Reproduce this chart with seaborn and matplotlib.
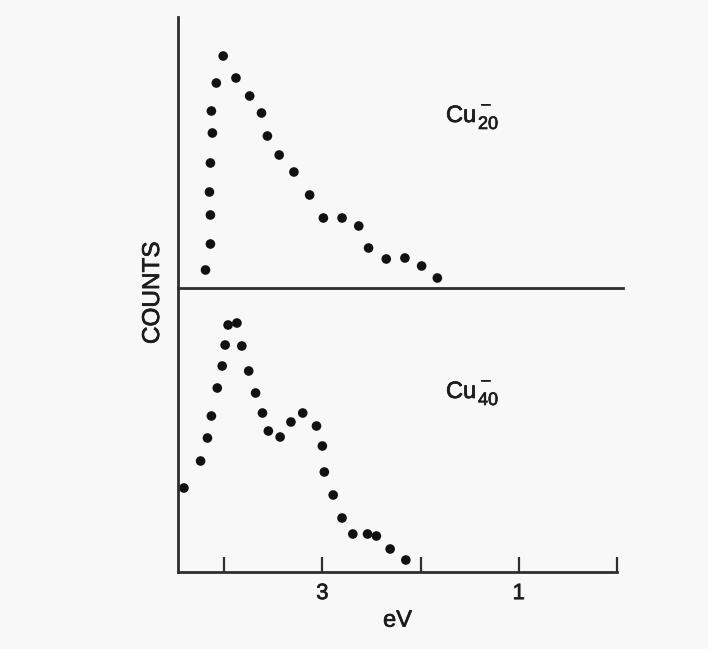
import matplotlib
matplotlib.use("Agg")
import matplotlib.pyplot as plt
import matplotlib.patheffects as pe
import seaborn as sns
import pandas as pd

# Photoelectron spectra of copper cluster anions (arbitrary count units)
cu20_ev = [4.19, 4.14, 4.14, 4.15, 4.14, 4.12, 4.13, 4.08, 4.01, 3.88, 3.74, 3.62,
           3.56, 3.44, 3.29, 3.13, 2.99, 2.80, 2.63, 2.53, 2.35, 2.16, 1.99, 1.83]
cu20_counts = [18, 44, 73, 96, 125, 155, 177, 205, 232, 210, 192, 175,
               152, 133, 116, 93, 70, 70, 62, 40, 29, 30, 22, 10]

cu40_ev = [4.41, 4.24, 4.17, 4.13, 4.07, 4.02, 3.99, 3.96, 3.87, 3.82, 3.75, 3.68,
           3.61, 3.55, 3.43, 3.32, 3.20, 3.06, 3.00, 2.98, 2.89, 2.80, 2.69, 2.54,
           2.45, 2.31, 2.15]
cu40_counts = [84, 111, 134, 156, 184, 206, 227, 247, 249, 226, 201, 179,
               159, 141, 135, 150, 159, 146, 126, 100, 77, 54, 38, 38,
               36, 23, 12]

x_ticks = [4, 3, 2, 1, 0]
x_tick_labels = ["", "3", "", "1", ""]

sns.set_style("white")
plt.rcParams["font.family"] = ["Liberation Sans", "DejaVu Sans"]

W, H = 708, 649
paper = "#f8f8f8"
ink = "#111111"
text_c = "#1c1c1c"
line_c = "#2e2e2e"
heavy = [pe.withStroke(linewidth=0.5, foreground=text_c)]

fig = plt.figure(figsize=(W / 100, H / 100), dpi=100, facecolor=paper)

# panel boxes in pixel coordinates
ax_top = fig.add_axes([178 / W, 1 - 288 / H, (623 - 178) / W, (288 - 17) / H])
ax_bot = fig.add_axes([178 / W, 1 - 572 / H, (617 - 178) / W, (572 - 288) / H])

df20 = pd.DataFrame({"eV": cu20_ev, "counts": cu20_counts})
df40 = pd.DataFrame({"eV": cu40_ev, "counts": cu40_counts})

left_ev = 4.47

for ax, df, height in ((ax_top, df20, 271), (ax_bot, df40, 284)):
    ax.set_facecolor("none")
    sns.scatterplot(data=df, x="eV", y="counts", ax=ax, s=48, color=ink,
                    edgecolor="none", linewidth=0, legend=False)
    ax.set_ylim(0, height)
    ax.set_yticks([])
    ax.set_xlabel("")
    ax.set_ylabel("")
    for side in ("top", "right"):
        ax.spines[side].set_visible(False)
    for side in ("left", "bottom"):
        ax.spines[side].set_color(line_c)
        ax.spines[side].set_linewidth(2.0)

ax_top.set_xlim(left_ev, -0.06)
ax_top.set_xticks([])

ax_bot.set_xlim(left_ev, 0)
ax_bot.set_xticks(x_ticks)
ax_bot.set_xticklabels(x_tick_labels, fontsize=16, color=text_c)
for lbl in ax_bot.get_xticklabels():
    lbl.set_path_effects(heavy)
ax_bot.tick_params(axis="x", bottom=True, direction="in", length=11, width=1.6,
                   color=line_c, pad=8)
ax_bot.set_xlabel("eV", fontsize=17, color=text_c, labelpad=4,
                  path_effects=heavy)

fig.text(153 / W, 1 - 293 / H, "COUNTS", rotation=90, fontsize=17.5,
         color=text_c, ha="center", va="center", path_effects=heavy)


def cluster_label(ax, x_px, y_px, size):
    # "Cu" with the cluster size as a subscript and the anion charge above it
    ax.annotate("Cu", xy=(x_px / W, 1 - y_px / H), xycoords="figure fraction",
                fontsize=17, color=text_c, ha="left", va="baseline",
                path_effects=heavy)
    ax.annotate(size, xy=((x_px + 32) / W, 1 - (y_px + 7) / H),
                xycoords="figure fraction", fontsize=13, color=text_c,
                ha="left", va="baseline", path_effects=heavy)
    ax.annotate("\u2013", xy=((x_px + 35) / W, 1 - (y_px - 13) / H),
                xycoords="figure fraction", fontsize=12, color=text_c,
                ha="left", va="baseline", path_effects=heavy)


cluster_label(ax_top, 446, 122, "20")
cluster_label(ax_bot, 446, 398, "40")

fig.savefig("out.png", dpi=100, facecolor=paper)
